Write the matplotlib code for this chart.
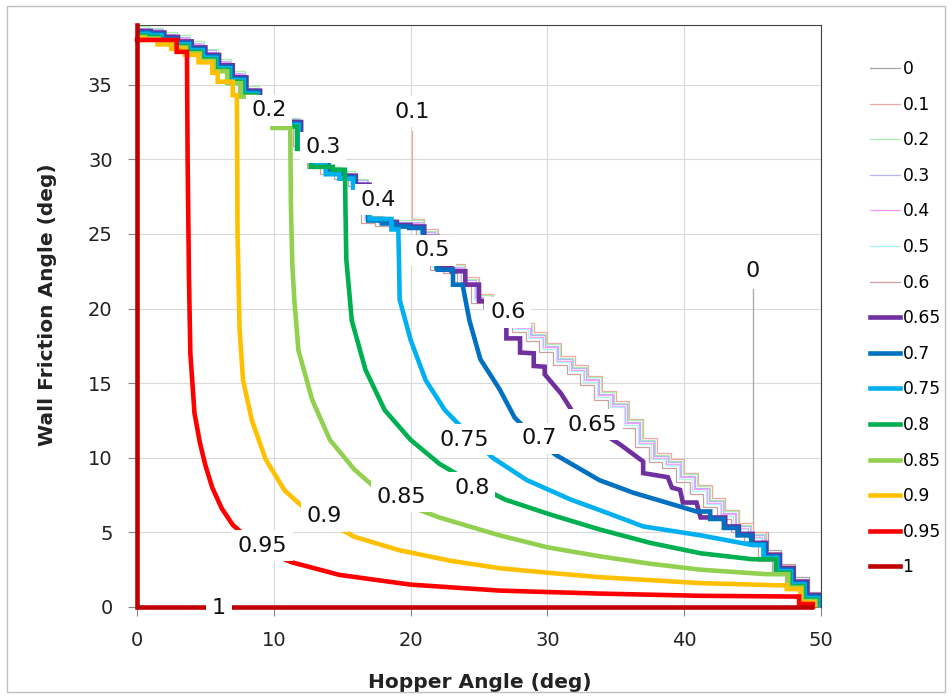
import matplotlib.pyplot as plt
from matplotlib.lines import Line2D
from matplotlib.patches import Rectangle

# hopper angle grid (deg) and the jagged mass-flow edge
hopper = list(range(51))
edge_outer = [39.0, 38.9, 38.6, 38.4, 38.0, 37.5, 36.8, 36.0, 35.0, 34.0,
              33.2, 32.9, 31.5, 30.0, 29.6, 29.3, 28.8, 26.3, 26.1, 26.0,
              26.0, 25.3, 23.2, 23.0, 22.1, 21.0, 20.5, 19.5, 19.0, 18.4,
              17.7, 16.8, 16.2, 15.5, 14.5, 13.8, 12.6, 11.3, 10.3, 9.9,
              9.0, 8.2, 7.3, 6.5, 5.6, 5.0, 3.7, 2.8, 1.9, 0.9, 0.0]
edge_inner = [38.6, 38.5, 38.2, 37.9, 37.5, 37.0, 36.3, 35.5, 34.6, 33.7,
              32.8, 32.5, 31.0, 29.8, 29.2, 28.9, 28.3, 26.0, 25.8, 25.6,
              25.5, 24.8, 22.8, 22.5, 21.6, 20.5, 19.9, 18.9, 18.0, 17.1,
              16.2, 15.3, 14.4, 13.6, 12.8, 12.0, 11.2, 10.3, 9.2, 8.5,
              7.5, 7.0, 6.0, 5.4, 4.9, 4.3, 3.5, 2.6, 1.7, 0.8, 0.0]

levels = ["0", "0.1", "0.2", "0.3", "0.4", "0.5", "0.6", "0.65",
          "0.7", "0.75", "0.8", "0.85", "0.9", "0.95", "1"]

# contour pieces that leave the edge
c0_x = [45.0, 45.0]
c0_y = [21.3, 5.0]
c01_x = [20.1, 20.1]
c01_y = [31.9, 26.0]
c065_x = [25.5, 26.3, 26.3, 27.0, 27.0, 28.0, 28.0, 29.0, 29.0, 29.8, 29.8, 31.0,
          31.9, 33.6, 35.3, 37.0, 37.0, 38.8, 39.1, 39.7, 39.9, 40.9, 41.2, 42.1]
c065_y = [20.1, 20.1, 19.2, 19.2, 18.0, 18.0, 17.05, 17.0, 16.15, 16.1, 15.6, 14.3,
          13.0, 11.9, 10.9, 9.75, 8.97, 8.7, 8.0, 7.85, 7.0, 7.0, 6.0, 6.0]
c07_x = [22.0, 23.1, 23.1, 23.8, 24.3, 25.1, 26.5, 27.6, 29.0, 30.6, 33.8, 36.3, 38.7, 40.9]
c07_y = [22.6, 22.6, 21.6, 21.6, 19.2, 16.6, 14.6, 12.7, 11.4, 10.2, 8.5, 7.65, 7.0, 6.4]
c075_x = [17.0, 18.6, 18.6, 19.1, 19.15, 19.2, 20.0, 21.1, 22.5, 24.2, 26.0, 28.5,
          31.7, 33.8, 37.0, 41.2, 45.0]
c075_y = [26.0, 26.0, 25.3, 25.3, 23.3, 20.6, 17.9, 15.2, 13.2, 11.6, 10.0, 8.5,
          7.2, 6.5, 5.4, 4.8, 4.15]
c08_x = [14.3, 15.2, 15.25, 15.3, 15.7, 16.7, 18.1, 20.0, 22.1, 24.5, 26.9, 30.2,
         33.8, 37.5, 41.2, 45.0]
c08_y = [29.3, 29.3, 26.0, 23.3, 19.2, 15.9, 13.2, 11.2, 9.6, 8.3, 7.2, 6.2,
         5.2, 4.3, 3.6, 3.2]
c085_x = [9.9, 11.2, 11.25, 11.35, 11.5, 11.8, 12.8, 14.1, 15.9, 17.4, 19.2, 22.1,
          26.5, 30.0, 33.8, 37.5, 41.2, 46.0]
c085_y = [32.1, 32.1, 27.0, 23.0, 20.6, 17.2, 13.9, 11.2, 9.2, 8.0, 7.0, 6.0,
          4.8, 4.0, 3.4, 2.9, 2.5, 2.2]
c09_x = [5.9, 7.0, 7.0, 7.3, 7.35, 7.5, 7.75, 8.4, 9.4, 10.8, 12.5, 15.9, 19.2,
         22.9, 26.5, 30.0, 33.8, 37.5, 41.2, 47.0]
c09_y = [35.2, 35.2, 34.3, 34.3, 25.0, 18.6, 15.2, 12.5, 9.9, 7.8, 6.4, 4.7, 3.8,
         3.1, 2.6, 2.3, 2.0, 1.8, 1.6, 1.45]
c095_x = [0.0, 2.9, 2.9, 3.65, 3.7, 3.8, 3.9, 4.2, 4.6, 5.0, 5.5, 6.2, 7.0, 9.0,
          11.3, 14.8, 20.0, 26.5, 33.8, 41.2, 48.2]
c095_y = [38.0, 38.0, 37.2, 37.2, 30.0, 22.0, 17.0, 13.0, 11.0, 9.5, 8.0, 6.6, 5.5, 3.9,
          3.0, 2.15, 1.5, 1.1, 0.9, 0.75, 0.7]
c1_x = [0.0, 0.0, 49.3]
c1_y = [39.0, 0.0, 0.0]

# data label positions
label_x = [45.0, 20.1, 9.65, 13.6, 17.6, 21.6, 27.1, 33.3, 29.4, 23.9, 24.5, 19.3, 13.7, 9.15, 6.0]
label_y = [22.5, 33.2, 33.3, 30.8, 27.3, 23.9, 19.75, 12.2, 11.3, 11.2, 8.0, 7.4, 6.1, 4.1, -0.05]

colors = ["#a6a6a6", "#f4a6a6", "#a9f0a9", "#b4b4ff", "#ff99ff", "#a6f6f6", "#cda0a0",
          "#7030a0", "#0070c0", "#00b0f0", "#00b050", "#92d050", "#ffc000", "#ff0000", "#c00000"]


def trace(edge, shift, cx=(), cy=(), lead=True, trail=True):
    sx = [h - shift for h in hopper]
    sy = [max(e - shift, 0.0) for e in edge]
    px, py = [], []
    if lead:
        for x, y in zip(sx, sy):
            if cx and (x >= cx[0] or y < cy[0]):
                break
            if px:
                px.append(x)
                py.append(py[-1])
            px.append(x)
            py.append(y)
        if cx and px:
            px.append(cx[0])
            py.append(py[-1])
    px += list(cx)
    py += list(cy)
    if trail and cx:
        for x, y in zip(sx, sy):
            if x <= cx[-1]:
                continue
            y = max(min(y, py[-1]), 0.0)
            px += [x, x]
            py += [py[-1], y]
            if y == 0.0:
                break
    return px, py


paths = [
    trace(edge_outer, -0.1, c0_x, c0_y, lead=False),
    trace(edge_outer, 0.0, c01_x, c01_y, lead=False),
    trace(edge_outer, 0.1),
    trace(edge_outer, 0.2),
    trace(edge_outer, 0.3),
    trace(edge_outer, 0.4),
    trace(edge_outer, 0.6),
    trace(edge_inner, 0.0, c065_x, c065_y),
    trace(edge_inner, 0.1, c07_x, c07_y),
    trace(edge_inner, 0.2, c075_x, c075_y),
    trace(edge_inner, 0.3, c08_x, c08_y),
    trace(edge_inner, 0.4, c085_x, c085_y),
    trace(edge_inner, 0.5, c09_x, c09_y),
    trace(edge_inner, 0.6, c095_x, c095_y, lead=False),
    (c1_x, c1_y),
]
widths = [0.9] * 7 + [3.3] * 8

fig = plt.figure(figsize=(9.52, 6.98), dpi=100)
ax = fig.add_axes([137 / 952, 1 - 607 / 698, 684 / 952, 582 / 698])

for i, (px, py) in enumerate(paths):
    ax.plot(px, py, color=colors[i], lw=widths[i], solid_joinstyle="miter",
            clip_on=(i < 13), zorder=3)

for s, x, y in zip(levels, label_x, label_y):
    ax.text(x, y, s, ha="center", va="center", fontsize=16, color="#111111", zorder=6,
            bbox=dict(boxstyle="square,pad=0.25", fc="white", ec="none"))

ax.set_xlim(0, 50)
ax.set_ylim(0, 39)
ax.set_xticks(range(0, 51, 10))
ax.set_yticks(range(0, 36, 5))
ax.set_axisbelow(True)
ax.grid(color="#d9d9d9", lw=0.8)
ax.tick_params(direction="out", length=6.5, width=0.8, color="#868686",
               labelsize=14, pad=11, labelcolor="#222222")
for side in ["left", "bottom"]:
    ax.spines[side].set_color("#868686")
    ax.spines[side].set_zorder(1)
for side in ["top", "right"]:
    ax.spines[side].set_color("#404040")

ax.set_xlabel("Hopper Angle (deg)", fontsize=14.5, fontweight="bold", color="#222222")
ax.xaxis.set_label_coords((480 - 137) / 684, (607 - 683) / 582)
ax.xaxis.label.set_va("center")
ax.set_ylabel("Wall Friction Angle (deg)", fontsize=14.5, fontweight="bold", color="#222222")
ax.yaxis.set_label_coords((48 - 137) / 684, (607 - 305) / 582)
ax.yaxis.label.set_va("center")

leg_handles = [Line2D([], [], color=colors[i], lw=0.9 if i < 7 else 3.3) for i in range(15)]
fig.legend(leg_handles, levels, loc="upper left", bbox_to_anchor=(870 / 952, 1 - 60 / 698),
           frameon=False, fontsize=12.3, handlelength=1.75, handletextpad=0.15,
           labelspacing=1.03, borderpad=0, borderaxespad=0)

fig.patches.append(Rectangle((7 / 952, 6 / 698), 938 / 952, 686 / 698,
                             transform=fig.transFigure, fill=False, ec="#bfbfbf", lw=1))

fig.savefig("out.png", dpi=100)
